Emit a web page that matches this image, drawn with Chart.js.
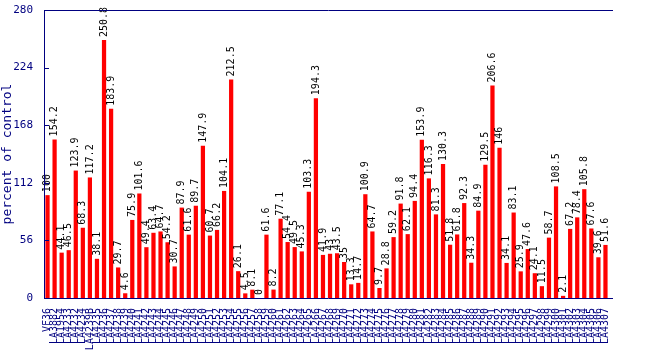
<!DOCTYPE html>
<html>
<head>
<meta charset="utf-8">
<script src="https://cdn.jsdelivr.net/npm/chart.js@4/dist/chart.umd.min.js"></script>
<style>
  html, body { margin: 0; padding: 0; background: #fff; }
  #wrap { width: 650px; height: 350px; }
</style>
</head>
<body>
<div id="wrap"><canvas id="chart" width="650" height="350"></canvas></div>
<script>
// --- data ---
const lines = [
  'VF36', 'LA3882', 'LA1954', 'LA4233', 'LA4232', 'LA4234', 'LA4239B', 'LA4235',
  'LA4236', 'LA4237', 'LA4238', 'LA4239', 'LA4240', 'LA4241', 'LA4242', 'LA4243',
  'LA4244', 'LA4245', 'LA4246', 'LA4247', 'LA4248', 'LA4249', 'LA4250', 'LA4251',
  'LA4252', 'LA4253', 'LA4254', 'LA4255', 'LA4256', 'LA4257', 'LA4258', 'LA4259',
  'LA4260', 'LA4261', 'LA4262', 'LA4263', 'LA4264', 'LA4265', 'LA4266', 'LA4267',
  'LA4268', 'LA4269', 'LA4270', 'LA4271', 'LA4272', 'LA4273', 'LA4274', 'LA4275',
  'LA4276', 'LA4277', 'LA4278', 'LA4279', 'LA4280', 'LA4281', 'LA4282', 'LA4283',
  'LA4284', 'LA4285', 'LA4286', 'LA4287', 'LA4288', 'LA4289', 'LA4290', 'LA4291',
  'LA4292', 'LA4293', 'LA4294', 'LA4295', 'LA4296', 'LA4297', 'LA4298', 'LA4299',
  'LA4300', 'LA4301', 'LA4302', 'LA4303', 'LA4304', 'LA4305', 'LA4306', 'LA4307'
];
const pctOfControl = [
  100, 154.2, 44.1, 46.5, 123.9, 68.3, 117.2, 38.1, 250.8, 183.9,
  29.7, 4.6, 75.9, 101.6, 49.4, 63.4, 64.7, 54.2, 30.7, 87.9,
  61.6, 89.7, 147.9, 60.7, 66.2, 104.1, 212.5, 26.1, 4.5, 8.1,
  0, 61.6, 8.2, 77.1, 54.4, 49.5, 45.3, 103.3, 194.3, 41.9,
  43, 43.5, 35, 13.3, 14.7, 100.9, 64.7, 9.7, 28.8, 59.2,
  91.8, 62.1, 94.4, 153.9, 116.3, 81.3, 130.3, 51.8, 61.8, 92.3,
  34.3, 84.9, 129.5, 206.6, 146, 34.1, 83.1, 25.9, 47.6, 24.1,
  11.5, 58.7, 108.5, 2.1, 67.2, 78.4, 105.8, 67.6, 39.6, 51.6
];
const yTicks = [0, 56, 112, 168, 224, 280];

const navy = '#000080';
const mono = '"DejaVu Sans Mono", "Liberation Mono", monospace';

// value written above each bar, reading upwards
const barValues = {
  id: 'barValues',
  afterDatasetsDraw(chart) {
    const ctx = chart.ctx;
    const meta = chart.getDatasetMeta(0);
    ctx.save();
    ctx.fillStyle = '#000';
    ctx.font = '10px ' + mono;
    ctx.textAlign = 'left';
    ctx.textBaseline = 'middle';
    meta.data.forEach((bar, i) => {
      ctx.save();
      ctx.translate(bar.x, bar.y - 3);
      ctx.rotate(-Math.PI / 2);
      ctx.fillText(String(pctOfControl[i]), 0, 0);
      ctx.restore();
    });
    ctx.restore();
  }
};

// axis frame and inward tick marks
const frame = {
  id: 'frame',
  afterDraw(chart) {
    const { ctx, chartArea: a, scales } = chart;
    ctx.save();
    ctx.strokeStyle = navy;
    ctx.lineWidth = 1;
    ctx.beginPath();
    ctx.moveTo(a.left + 0.5, a.top + 0.5);
    ctx.lineTo(a.left + 0.5, a.bottom + 0.5);
    ctx.moveTo(a.left, a.top + 0.5);
    ctx.lineTo(a.right + 4, a.top + 0.5);
    ctx.moveTo(a.left, a.bottom + 0.5);
    ctx.lineTo(a.right + 4, a.bottom + 0.5);
    yTicks.forEach(v => {
      const y = Math.round(scales.y.getPixelForValue(v)) + 0.5;
      ctx.moveTo(a.left, y);
      ctx.lineTo(a.left + 5, y);
    });
    ctx.stroke();
    ctx.restore();
  }
};

new Chart(document.getElementById('chart'), {
  type: 'bar',
  data: {
    labels: lines,
    datasets: [{
      data: pctOfControl,
      backgroundColor: '#ff0000',
      barPercentage: 0.6,
      categoryPercentage: 1.0
    }]
  },
  options: {
    responsive: false,
    animation: false,
    layout: { padding: { top: 10, right: 41, left: 0, bottom: 0 } },
    plugins: { legend: { display: false }, tooltip: { enabled: false } },
    scales: {
      x: {
        grid: { display: false },
        border: { display: false },
        ticks: {
          color: navy,
          font: { family: mono, size: 10 },
          minRotation: 90,
          maxRotation: 90,
          autoSkip: false,
          padding: 2
        },
        afterFit(scale) { scale.height = 52; }
      },
      y: {
        min: 0,
        max: 280,
        grid: { display: false },
        border: { display: false },
        afterBuildTicks(scale) { scale.ticks = yTicks.map(v => ({ value: v })); },
        ticks: {
          color: navy,
          font: { family: mono, size: 11 },
          padding: 3
        },
        title: {
          display: true,
          text: 'percent of control',
          color: navy,
          font: { family: mono, size: 13 },
          padding: 0
        },
        afterFit(scale) { scale.width = 44; }
      }
    }
  },
  plugins: [barValues, frame]
});
</script>
</body>
</html>
